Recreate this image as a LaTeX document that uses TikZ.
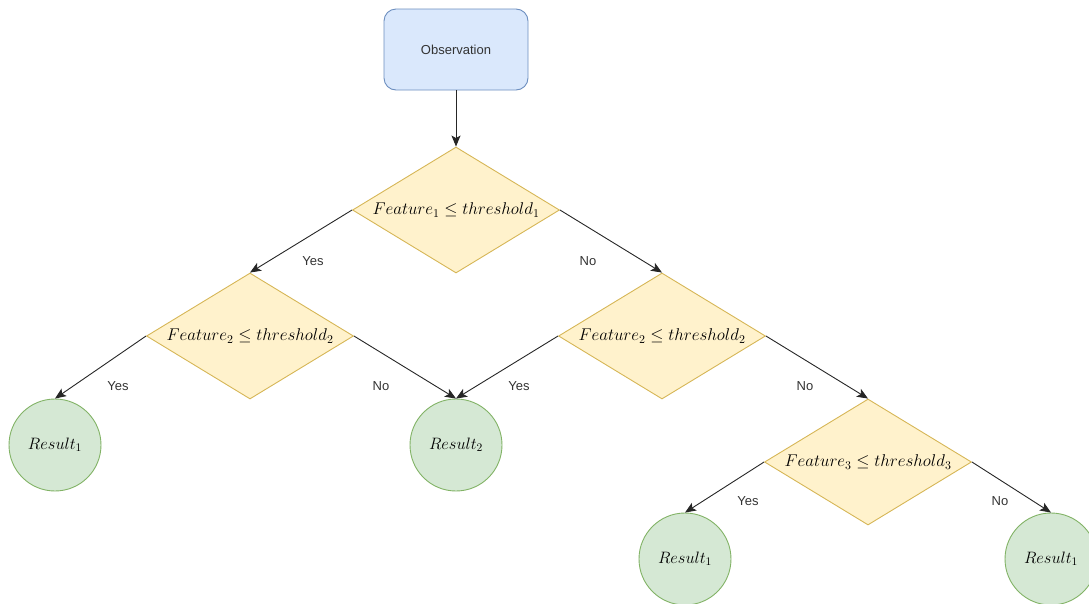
\RequirePackage{fix-cm}
\documentclass[tikz,border=0pt]{standalone}
\usepackage{fontspec}
\newfontfamily\labelfont{Liberation Sans}
\usetikzlibrary{shapes.geometric,arrows.meta}

\definecolor{obsfill}{HTML}{DAE8FC}
\definecolor{obsline}{HTML}{6C8EBF}
\definecolor{testfill}{HTML}{FFF2CC}
\definecolor{testline}{HTML}{D6B656}
\definecolor{leaffill}{HTML}{D5E8D4}
\definecolor{leafline}{HTML}{82B366}
\definecolor{inktext}{HTML}{333333}

\begin{document}
\begin{tikzpicture}[x=1pt,y=-1pt,
  startbox/.style={rectangle, rounded corners=12pt, draw=obsline, fill=obsfill,
    line width=0.9pt, minimum width=144pt, minimum height=81pt, inner sep=0pt,
    font=\labelfont\fontsize{13}{15}\selectfont, text=inktext},
  testbox/.style={diamond, aspect=1.64, draw=testline, fill=testfill, line width=0.9pt,
    minimum width=207pt, minimum height=126pt, inner sep=0pt,
    font=\fontsize{17}{20}\selectfont},
  leafbox/.style={circle, draw=leafline, fill=leaffill, line width=0.9pt,
    minimum size=92pt, inner sep=0pt, font=\fontsize{16.5}{19}\selectfont},
  edgelabel/.style={font=\labelfont\fontsize{13}{15}\selectfont, text=inktext, inner sep=0pt},
  flow/.style={draw=black!85, line width=0.9pt,
    -{Stealth[length=11pt,width=9pt,inset=2.5pt]}}
]
\useasboundingbox (0,0) rectangle (1089,603);
\clip (0,0) rectangle (1089,603);

% nodes of the tree
\node[startbox] (obs) at (456,49.5) {Observation};
\node[testbox] (t1) at (456,210) {$Feature_1 \leq threshold_1$};
\node[testbox] (t2a) at (250,336) {$Feature_2 \leq threshold_2$};
\node[testbox] (t2b) at (662,336) {$Feature_2 \leq threshold_2$};
\node[testbox] (t3) at (868,462) {$Feature_3 \leq threshold_3$};
\node[leafbox] (r1) at (55,445) {$Result_1$};
\node[leafbox] (r2) at (456,445) {$Result_2$};
\node[leafbox] (r3) at (685,559) {$Result_1$};
\node[leafbox] (r4) at (1051,559) {$Result_1$};

% branches
\draw[flow] (obs.south) -- (t1.north);
\draw[flow] (t1.west) -- (t2a.north);
\draw[flow] (t1.east) -- (t2b.north);
\draw[flow] (t2a.west) -- (r1.north);
\draw[flow] (t2a.east) -- (r2.north);
\draw[flow] (t2b.west) -- (r2.north);
\draw[flow] (t2b.east) -- (t3.north);
\draw[flow] (t3.west) -- (r3.north);
\draw[flow] (t3.east) -- (r4.north);

% branch labels
\node[edgelabel] (y1) at (313,261) {Yes};
\node[edgelabel] (n1) at (588,261) {No};
\node[edgelabel] (y2) at (118,386) {Yes};
\node[edgelabel] (n2) at (381,386) {No};
\node[edgelabel] (y3) at (519,386) {Yes};
\node[edgelabel] (n3) at (805,386) {No};
\node[edgelabel] (y4) at (748,501) {Yes};
\node[edgelabel] (n4) at (1000,501) {No};
\end{tikzpicture}
\end{document}
